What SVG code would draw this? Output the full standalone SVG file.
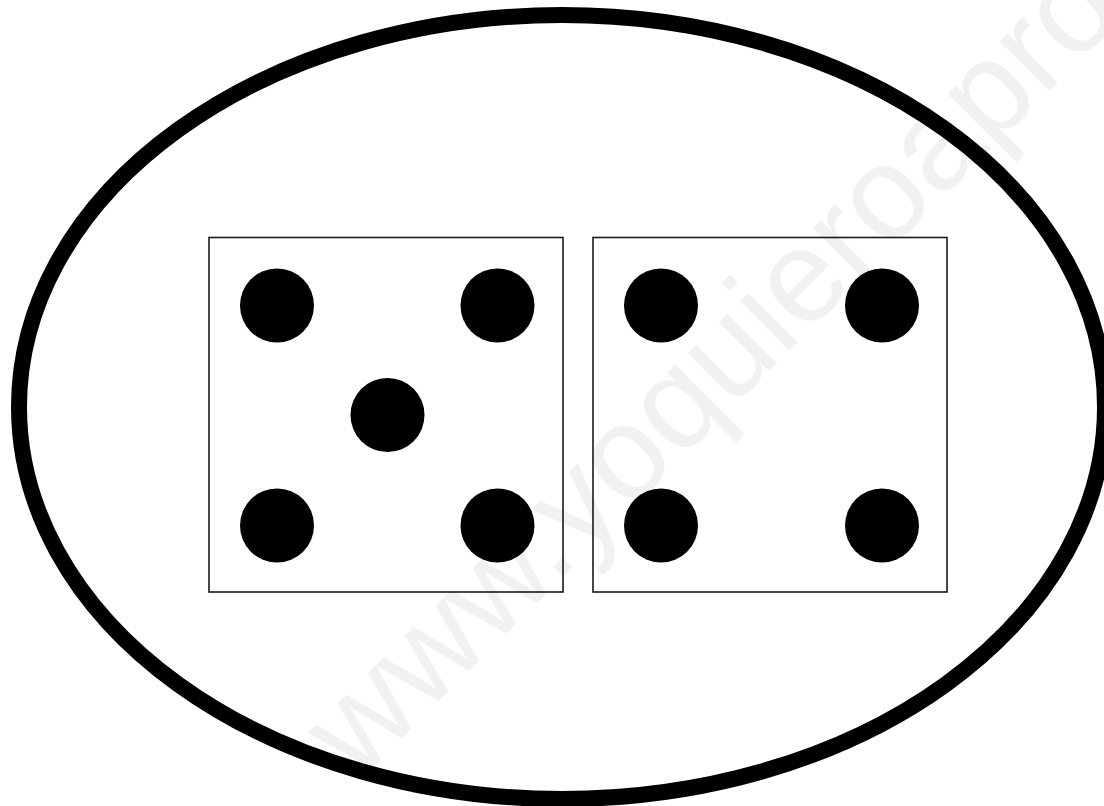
<svg xmlns="http://www.w3.org/2000/svg" width="1104" height="806" viewBox="0 0 1104 806">
<style>
.die{fill:none;stroke:#1a1a1a;stroke-width:1.6}
.pip{fill:#000}
.wm{fill:#f1f1f1;font-family:"Liberation Sans",Arial,sans-serif;font-size:132px}
</style>
<rect x="0" y="0" width="1104" height="806" fill="#fff"/>
<g id="watermark" transform="translate(570,570) rotate(-45)">
<text class="wm" x="-300" y="0">www.yoquieroaprobar.es</text>
</g>
<g id="ellipse">
<ellipse cx="562" cy="407" rx="543" ry="392" fill="none" stroke="#000" stroke-width="16"/>
</g>
<g id="die5">
<rect class="die" x="209" y="237.5" width="354" height="354.5"/>
<circle class="pip" cx="277" cy="305.5" r="37"/>
<circle class="pip" cx="497.5" cy="305.5" r="37"/>
<circle class="pip" cx="387.5" cy="415" r="37"/>
<circle class="pip" cx="277" cy="525.5" r="37"/>
<circle class="pip" cx="497.5" cy="525.5" r="37"/>
</g>
<g id="die4">
<rect class="die" x="593" y="237.5" width="354" height="354.5"/>
<circle class="pip" cx="661" cy="305.5" r="37"/>
<circle class="pip" cx="882" cy="305.5" r="37"/>
<circle class="pip" cx="661" cy="525.5" r="37"/>
<circle class="pip" cx="882" cy="525.5" r="37"/>
</g>
<g id="connectors"/>
</svg>
